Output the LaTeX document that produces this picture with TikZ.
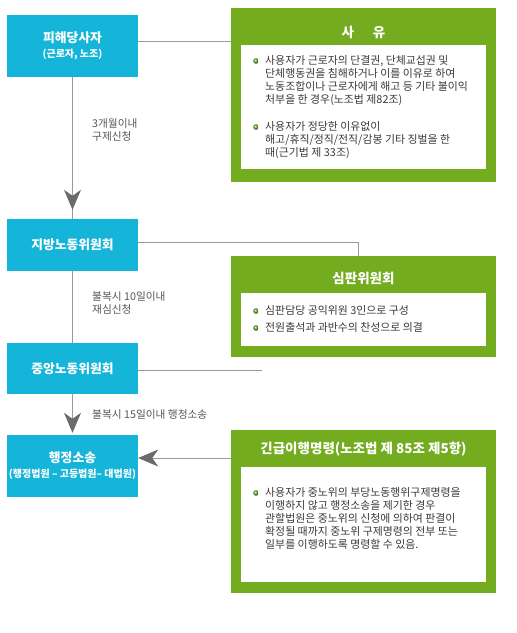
\documentclass[tikz,border=0pt]{standalone}
\usepackage{fontspec}
\usepackage{tikz}
\usetikzlibrary{arrows.meta,positioning,calc}
\setmainfont{Noto Sans CJK KR}
\newcommand{\subtxt}[1]{{\fontsize{10}{12}\selectfont #1}}
\definecolor{cblue}{HTML}{14B5D9}
\definecolor{cgreen}{HTML}{73AC1F}
\definecolor{cline}{HTML}{9A9A9A}
\definecolor{carrow}{HTML}{6B6B6B}
\definecolor{ctext}{HTML}{3A3A3A}
\definecolor{clbl}{HTML}{555555}
\tikzset{
  stage/.style={fill=cblue, draw=none, minimum width=131pt, text=white, font=\bfseries\fontsize{12.8}{15}\selectfont, align=center, inner sep=0pt},
  panel/.style={fill=cgreen, draw=none, minimum width=265pt, inner sep=0pt},
  inner/.style={fill=white, draw=none, minimum width=245pt, inner sep=0pt},
  ptitle/.style={text=white, font=\bfseries\fontsize{13.5}{15}\selectfont, inner sep=0pt},
  body/.style={text=ctext, font=\fontsize{10.9}{12.9}\selectfont, align=left, inner sep=0pt, anchor=north west},
  dot/.style={circle, shading=ball, ball color=cgreen!85!green, draw=none, minimum size=5.5pt, inner sep=0pt},
  lbl/.style={text=clbl, font=\fontsize{10.7}{13}\selectfont, align=left, inner sep=0pt, anchor=west},
  link/.style={draw=cline, line width=1pt},
  arr/.style={link, -{Stealth[length=20pt, width=17pt, inset=6pt, color=carrow]}},
}
\begin{document}
\begin{tikzpicture}[x=1pt,y=-1pt]
\useasboundingbox (0,0) rectangle (517,633);
% stages on the left
\node[stage, minimum height=62pt] (b1) at (72.5,46) {피해당사자\\\subtxt{(근로자, 노조)}};
\node[stage, minimum height=52pt] (b2) at (72.5,245) {지방노동위원회};
\node[stage, minimum height=51pt] (b3) at (72.5,368.5) {중앙노동위원회};
\node[stage, minimum height=62pt] (b4) at (72.5,466) {행정소송\\\subtxt{(행정법원 – 고등법원– 대법원)}};
% panels on the right
\node[panel, minimum height=174pt] (g1) at (363.5,95) {};
\node[inner, minimum height=124pt] (w1) at (363.5,107) {};
\node[ptitle] (t1) at (363.5,32) {사\hspace{1.4em}유};
\node[dot] (d11) at (256,61) {};
\node[body] (p11) at (265,55.5) {사용자가 근로자의 단결권, 단체교섭권 및\\단체행동권을 침해하거나 이를 이유로 하여\\노동조합이나 근로자에게 해고 등 기타 불이익\\처부을 한 경우(노조법 제82조)};
\node[dot] (d12) at (256,127) {};
\node[body] (p12) at (265,121.5) {사용자가 정당한 이유없이\\해고/휴직/정직/전직/감봉 기타 징벌을 한\\때(근기법 제 33조)};

\node[panel, minimum height=101pt] (g2) at (363.5,306.5) {};
\node[inner, minimum height=53pt] (w2) at (363.5,319.5) {};
\node[ptitle] (t2) at (363.5,278) {심판위원회};
\node[dot] (d21) at (256,311) {};
\node[body] (p21) at (265,305.5) {심판담당 공익위원 3인으로 구성};
\node[dot] (d22) at (256,328) {};
\node[body] (p22) at (265,322.5) {전원출석과 과반수의 찬성으로 의결};

\node[panel, minimum height=163pt] (g3) at (363.5,511.5) {};
\node[inner, minimum height=115pt] (w3) at (363.5,524.5) {};
\node[ptitle] (t3) at (363.5,449) {긴급이행명령(노조법 제 85조 제5항)};
\node[dot] (d31) at (256,493) {};
\node[body] (p31) at (265,487.5) {사용자가 중노위의 부당노동행위구제명령을\\이행하지 않고 행정소송을 제기한 경우\\관할법원은 중노위의 신청에 의하여 판결이\\확정될 때까지 중노위 구제명령의 전부 또는\\일부를 이행하도록 명령할 수 있음.};
% step labels
\node[lbl] (l1) at (92,129.5) {3개월이내\\구제신청};
\node[lbl] (l2) at (92,303) {불복시 10일이내\\재심신청};
\node[lbl] (l3) at (92,414) {불복시 15일이내 행정소송};
% connectors
\coordinate (b3end) at (262,370);
\draw[link] (b1.south) -- (b2.north);
\draw[arr, shorten >=9pt] (b1.south) -- (b2.north);
\draw[link] (b2.south) -- (b3.north);
\draw[arr, shorten >=2pt] (b3.south) -- (b4.north);
\draw[arr] ([yshift=8pt]b4.east -| g3.west) -- ([yshift=8pt]b4.east);
\draw[link] ([yshift=5pt]b1.east) -- ([yshift=5pt]b1.east -| g1.west);
\draw[link] ([yshift=3pt]b2.east) -| ([xshift=-5.5pt]g2.north);
\draw[link] ([yshift=-1.5pt]b3.east) -- (b3end);
\end{tikzpicture}
\end{document}
